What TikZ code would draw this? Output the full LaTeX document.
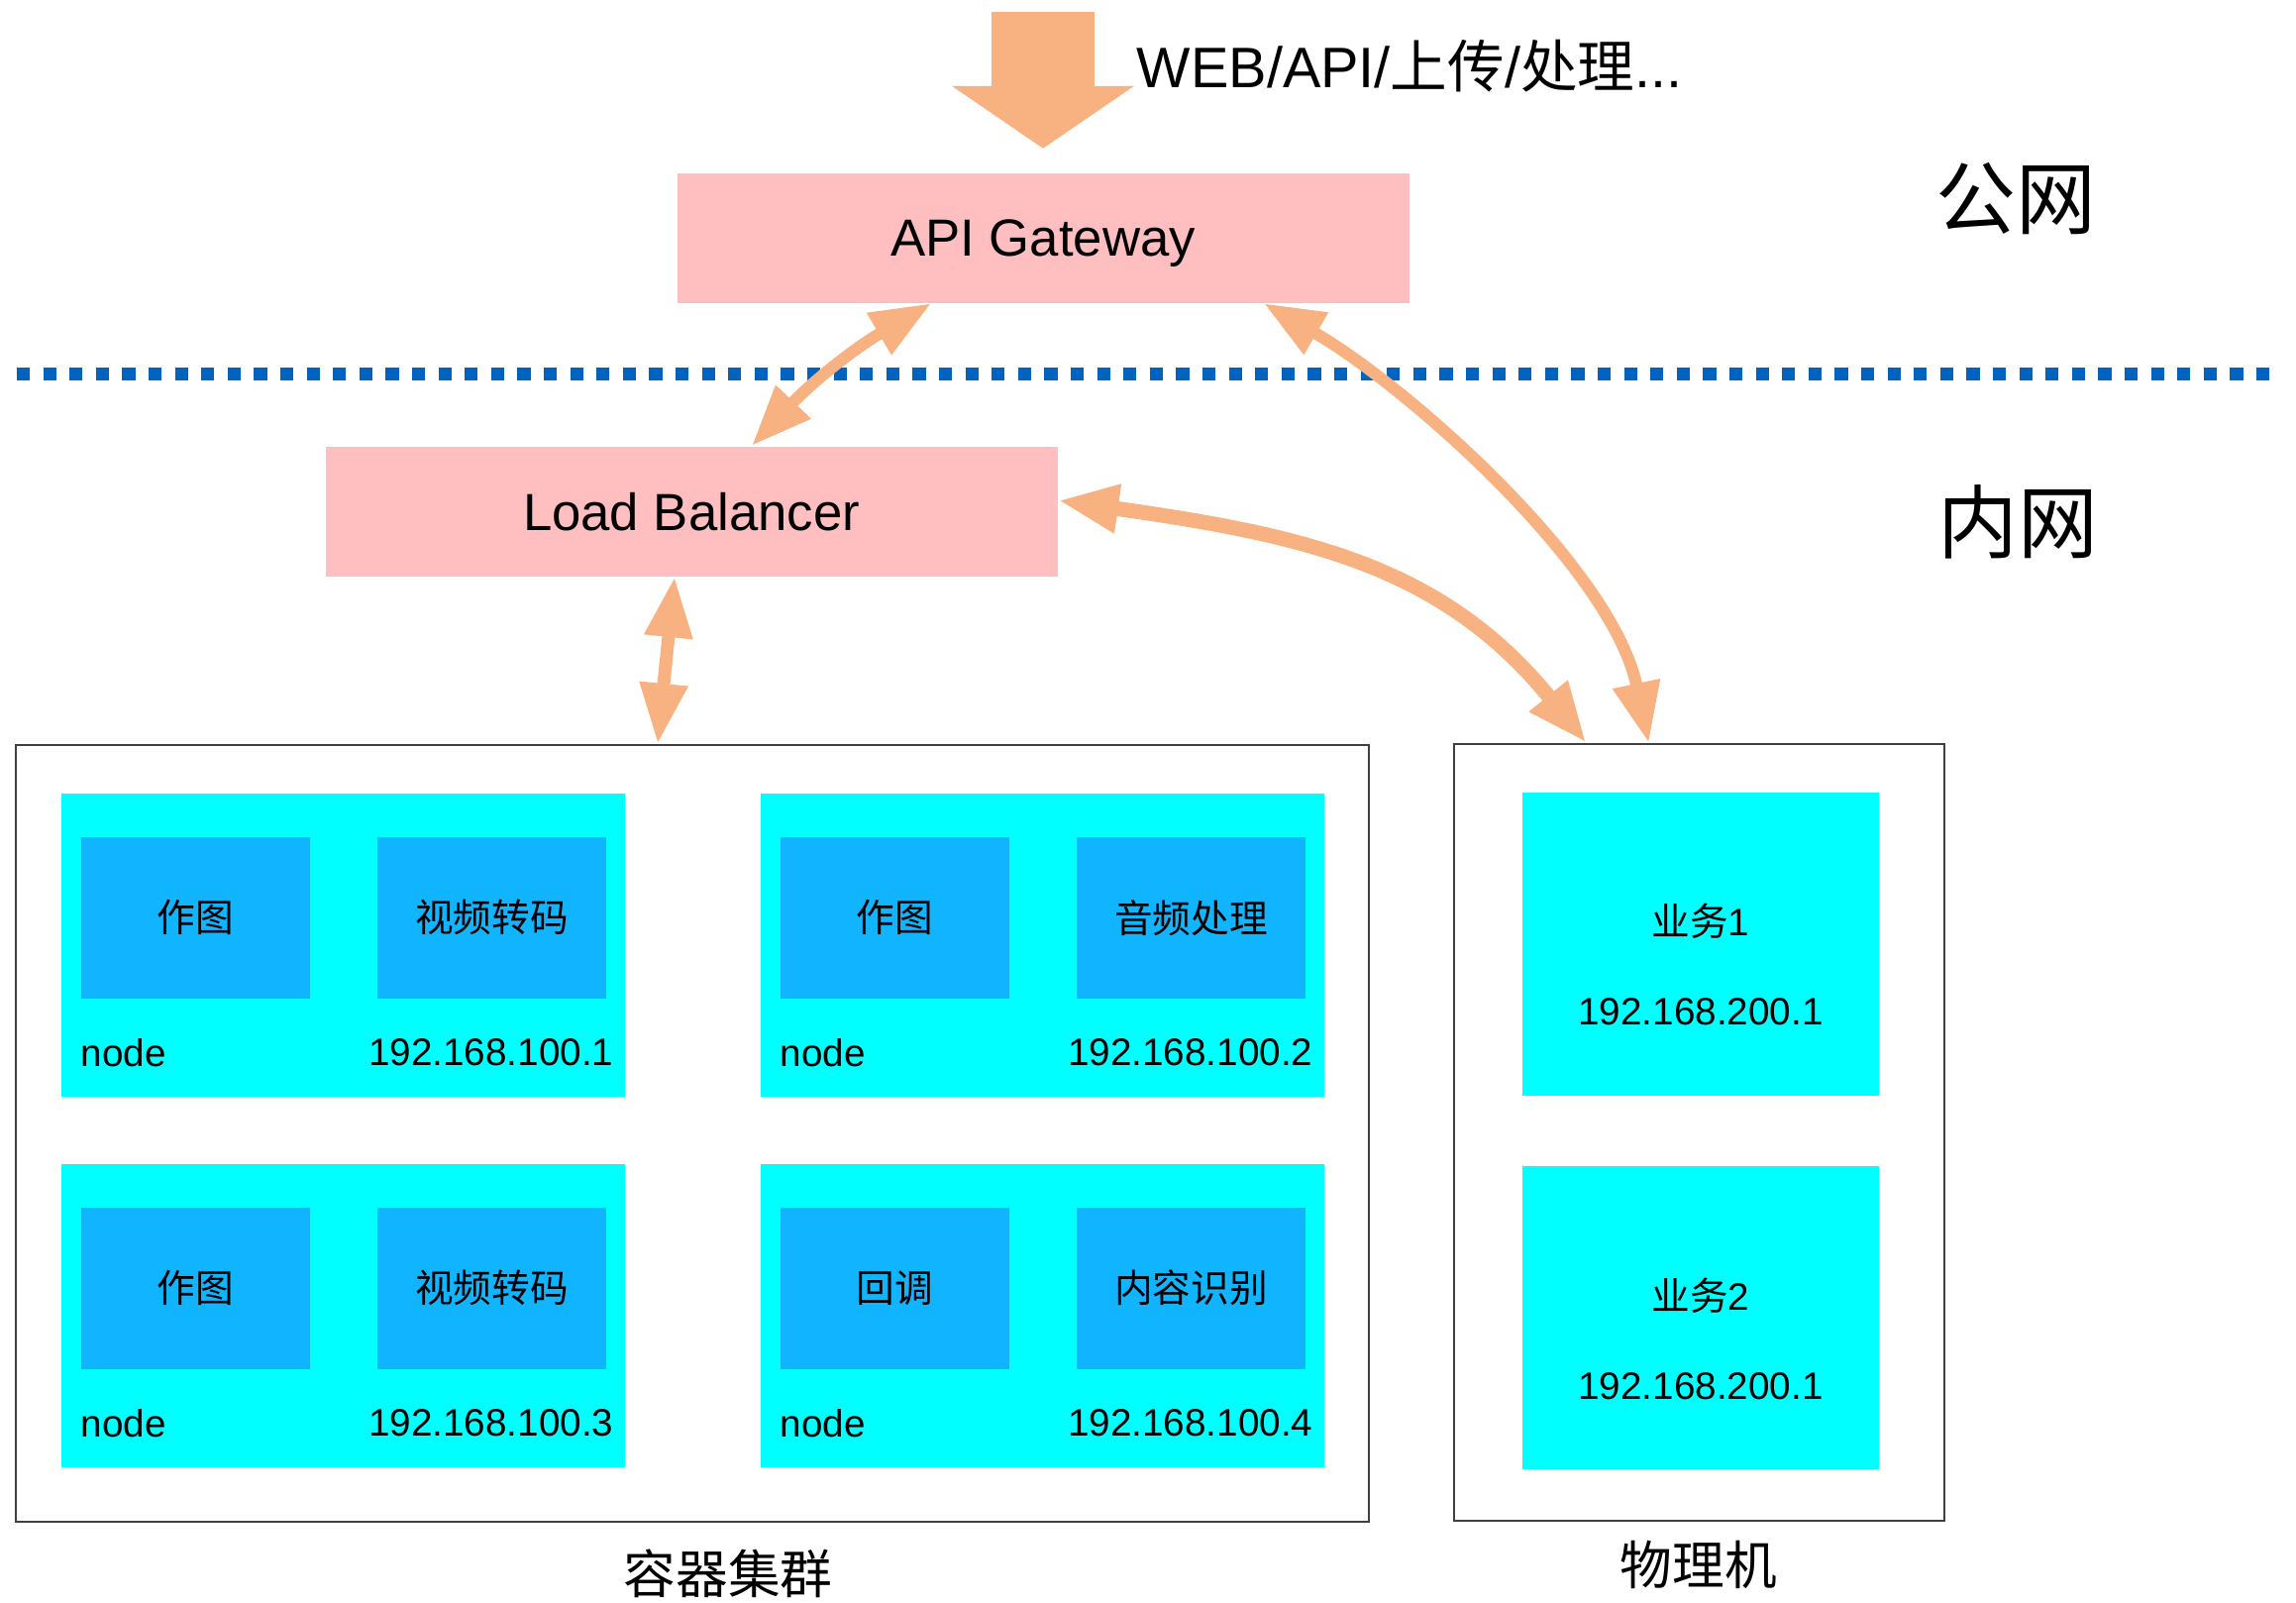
\documentclass[tikz,border=0pt]{standalone}
\usepackage{fontspec}
\usepackage{tikz}
\usepackage{xcolor}
\usetikzlibrary{arrows.meta,positioning}
\setmainfont{Liberation Sans}
\newfontfamily\cjk{Noto Sans CJK SC}
\definecolor{gwpink}{RGB}{255,190,191}
\definecolor{grpcyan}{RGB}{0,255,255}
\definecolor{svcblue}{RGB}{16,180,255}
\definecolor{arrowc}{RGB}{248,178,130}
\definecolor{sepblue}{RGB}{0,99,192}
\definecolor{boxgray}{RGB}{64,64,64}

\begin{document}
\begin{tikzpicture}[x=0.1mm, y=-0.1mm,
    entry/.style={rectangle, fill=gwpink, minimum width=73.9mm, minimum height=13.1mm, inner sep=0pt, text depth=0pt, font=\fontsize{15}{18}\selectfont},
    frame/.style={rectangle, draw=boxgray, line width=0.25mm, inner sep=0pt},
    grp/.style={rectangle, fill=grpcyan, anchor=north west, minimum width=56.9mm, minimum height=30.6mm, inner sep=0pt},
    svc/.style={rectangle, fill=svcblue, minimum width=23.1mm, minimum height=16.3mm, inner sep=0pt, font=\fontsize{11}{13}\selectfont\cjk},
    biz/.style={rectangle, fill=grpcyan, minimum width=36mm, minimum height=30.6mm, inner sep=0pt},
    lbl/.style={inner sep=0pt, font=\fontsize{11}{13}\selectfont},
    zone/.style={inner sep=0pt, font=\fontsize{23}{28}\selectfont\cjk},
    caption/.style={inner sep=0pt, font=\fontsize{15}{18}\selectfont\cjk},
    link/.style={draw=arrowc, line width=1.2mm, >={Triangle[length=6.1mm, width=4.6mm]}, <->}]
    \useasboundingbox (0,0) rectangle (2318,1617);

    % public side
    \coordinate (src) at (1053,12);
    \node (gw) [entry] at (1053,240) {API Gateway};
    \node (req) [inner sep=0pt, anchor=base west, font=\fontsize{16.4}{19}\selectfont] at (1147,88) {WEB/API/{\cjk 上传}/{\cjk 处理}...};
    \node (pub) [zone] at (2035,201) {公网};
    \draw [draw=arrowc, line width=10.4mm, -{Triangle[length=6.3mm, width=18.1mm]}, shorten >=2.4mm] (src) -- (gw);

    \draw [sepblue, line width=1.3mm, dash pattern=on 1.33mm off 1.33mm] (17,377) -- (2302,377);

    % private side
    \node (lb) [entry] at (698,516) {Load Balancer};
    \node (priv) [zone] at (2037,527) {内网};

    \node (cl) [frame, minimum width=136.6mm, minimum height=78.4mm] at (699,1144) {};
    \node (clname) [caption] at (735,1588) {容器集群};
    \node (ph) [frame, minimum width=49.5mm, minimum height=78.4mm] at (1715.5,1143) {};
    \node (phname) [caption] at (1715,1579) {物理机};

    % container nodes
    \node (n1) [grp] at (61,800) {};
    \node (n1a) [svc, below right=4.4mm and 2.0mm of n1.north west] {作图};
    \node (n1b) [svc, right=6.7mm of n1a] {视频转码};
    \node (n1l) [lbl, below=5.4mm of n1a.south west, anchor=west] {node};
    \node (n1ip) [lbl, below=5.4mm of n1b.south west, anchor=west, xshift=-0.9mm] {192.168.100.1};

    \node (n2) [grp] at (767,800) {};
    \node (n2a) [svc, below right=4.4mm and 2.0mm of n2.north west] {作图};
    \node (n2b) [svc, right=6.7mm of n2a] {音频处理};
    \node (n2l) [lbl, below=5.4mm of n2a.south west, anchor=west] {node};
    \node (n2ip) [lbl, below=5.4mm of n2b.south west, anchor=west, xshift=-0.9mm] {192.168.100.2};

    \node (n3) [grp] at (61,1174) {};
    \node (n3a) [svc, below right=4.4mm and 2.0mm of n3.north west] {作图};
    \node (n3b) [svc, right=6.7mm of n3a] {视频转码};
    \node (n3l) [lbl, below=5.4mm of n3a.south west, anchor=west] {node};
    \node (n3ip) [lbl, below=5.4mm of n3b.south west, anchor=west, xshift=-0.9mm] {192.168.100.3};

    \node (n4) [grp] at (767,1174) {};
    \node (n4a) [svc, below right=4.4mm and 2.0mm of n4.north west] {回调};
    \node (n4b) [svc, right=6.7mm of n4a] {内容识别};
    \node (n4l) [lbl, below=5.4mm of n4a.south west, anchor=west] {node};
    \node (n4ip) [lbl, below=5.4mm of n4b.south west, anchor=west, xshift=-0.9mm] {192.168.100.4};

    % physical machines
    \node (b1) [biz] at (1717,953) {};
    \node (b1name) [lbl] at ([yshift=2.3mm]b1.center) {{\cjk 业务}1};
    \node (b1ip) [lbl] at ([yshift=-6.8mm]b1.center) {192.168.200.1};
    \node (b2) [biz] at (1717,1330) {};
    \node (b2name) [lbl] at ([yshift=2.2mm]b2.center) {{\cjk 业务}2};
    \node (b2ip) [lbl] at ([yshift=-6.9mm]b2.center) {192.168.200.1};

    % connectors
    \draw [link] ([xshift=-11.3mm]gw.south) to[bend right=8] ([xshift=6.1mm]lb.north);
    \draw [link, line width=1.3mm] ([xshift=-1.7mm]lb.south) -- ([xshift=-3.5mm]cl.north);
    \draw [link] ([xshift=22.3mm]gw.south) .. controls +(147,85) and +(-37,-176) .. ([xshift=-5.1mm]ph.north);
    \draw [link, line width=1.5mm] ([yshift=1.1mm]lb.east) .. controls +(248,35) and +(-145,-179) .. ([xshift=-11.4mm]ph.north);
\end{tikzpicture}
\end{document}
